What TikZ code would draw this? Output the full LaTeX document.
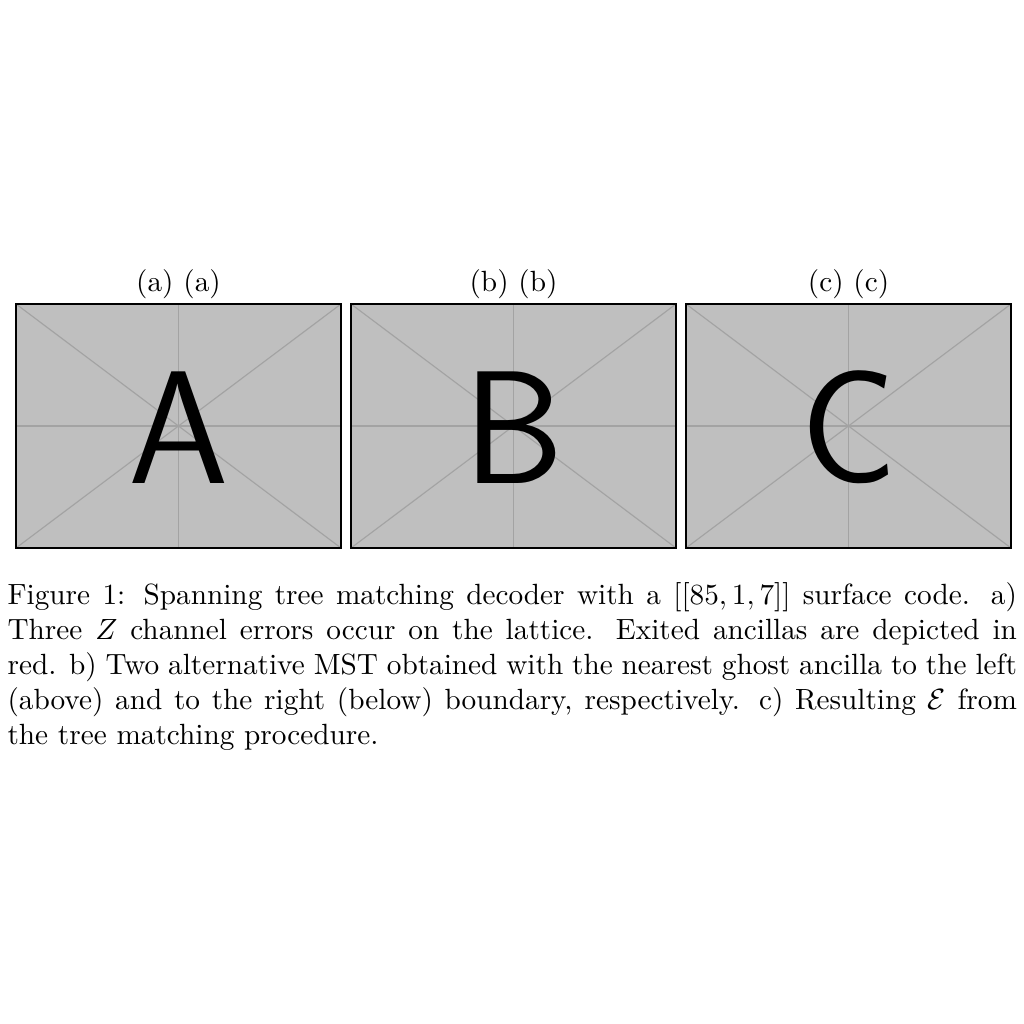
\documentclass[tikz,border=0pt]{standalone}
\usepackage{amsmath}
\usetikzlibrary{positioning}

\tikzset{
  panel/.style={fill=black!25, draw=none},
  guide/.style={draw=black!36, line width=0.4pt},
  frame/.style={draw=black, line width=0.4pt},
  bigletter/.style={font=\fontsize{55}{60}\selectfont\sffamily, inner sep=0pt},
  subcap/.style={anchor=base, inner sep=0pt}
}

\begin{document}
\begin{tikzpicture}[x=0.3418pt, y=-0.3418pt]
  \useasboundingbox (0,0) rectangle (1024,1024);

  % Three placeholder panels with their sub-captions
  \foreach \xl/\ch/\tag in {16/A/a, 351/B/b, 686/C/c} {
      \fill[panel] (\xl,304) rectangle ++(325,244);
      \draw[guide] (\xl,304) -- ++(325,244);
      \draw[guide] (\xl,548) -- ++(325,-244);
      \draw[guide] (\xl+162.5,304) -- ++(0,244);
      \draw[guide] (\xl,426) -- ++(325,0);
      \draw[frame] (\xl,304) rectangle ++(325,244);
      \node[bigletter] (letter\tag) at (\xl+162.5,427.5) {\ch};
      \node[subcap] (sub\tag) at (\xl+162.5,292) {(\tag) (\tag)};
  }

  % Figure caption
  \node[anchor=base west, inner sep=0pt, text width=345pt, align=justify] (caption) at (7,604)
      {Figure 1: Spanning tree matching decoder with a $[[85,1,7]]$ surface code. a) Three $Z$ channel errors occur on the lattice. Exited ancillas are depicted in red. b) Two alternative MST obtained with the nearest ghost ancilla to the left (above) and to the right (below) boundary, respectively. c) Resulting $\mathcal{E}$ from the tree matching procedure.};
\end{tikzpicture}
\end{document}
